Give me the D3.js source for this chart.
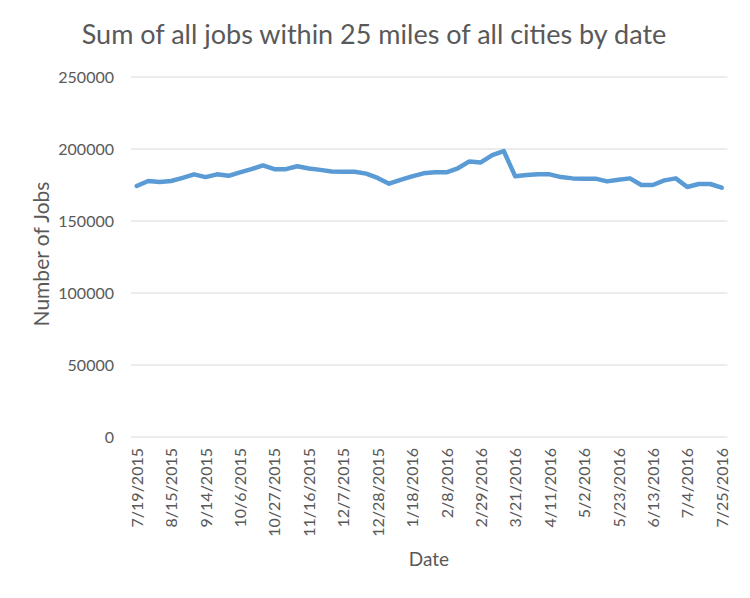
<!DOCTYPE html>
<html>
<head>
<meta charset="utf-8">
<script src="https://cdn.jsdelivr.net/npm/d3@7"></script>
<style>
  body { margin: 0; background: #fff; }
  svg text { font-family: Lato, "Open Sans", sans-serif; fill: #595959; }
</style>
</head>
<body>
<svg id="chart"></svg>
<script>
// categories (one per data point; only every 3rd shown on axis)
var dates = [
  "7/19/2015","7/28/2015","8/6/2015","8/15/2015","8/25/2015","9/4/2015","9/14/2015","9/21/2015","9/29/2015",
  "10/6/2015","10/13/2015","10/20/2015","10/27/2015","11/3/2015","11/10/2015","11/16/2015","11/23/2015","11/30/2015",
  "12/7/2015","12/14/2015","12/21/2015","12/28/2015","1/4/2016","1/11/2016","1/18/2016","1/25/2016","2/1/2016",
  "2/8/2016","2/15/2016","2/22/2016","2/29/2016","3/7/2016","3/14/2016","3/21/2016","3/28/2016","4/4/2016",
  "4/11/2016","4/18/2016","4/25/2016","5/2/2016","5/9/2016","5/16/2016","5/23/2016","5/30/2016","6/6/2016",
  "6/13/2016","6/20/2016","6/27/2016","7/4/2016","7/11/2016","7/18/2016","7/25/2016"
];
var jobs = [
  174300,177800,177100,177800,180000,182400,180500,182400,181400,
  183800,186000,188600,186000,186000,188000,186500,185500,184400,
  184200,184200,182900,179900,175900,178500,181000,183100,183800,
  183800,186600,191400,190700,195800,198600,181000,181900,182400,
  182400,180500,179600,179400,179400,177500,178700,179600,175000,
  175000,178200,179600,173600,175700,175700,173100
];
var yTicks = [0, 50000, 100000, 150000, 200000, 250000];

var W = 750, H = 598;
var svg = d3.select("#chart").attr("width", W).attr("height", H);

var x = d3.scalePoint().domain(dates).range([131, 727.4]).padding(0.5);
var y = d3.scaleLinear().domain([0, 250000]).range([437, 77]);

// gridlines
svg.append("g").selectAll("line")
  .data(yTicks)
  .enter().append("line")
  .attr("x1", 131).attr("x2", 727.4)
  .attr("y1", function(d){ return y(d); })
  .attr("y2", function(d){ return y(d); })
  .attr("stroke", "#d9d9d9").attr("stroke-width", 1);

// y axis labels
var yAxis = d3.axisLeft(y).tickValues(yTicks).tickSize(0).tickPadding(17)
  .tickFormat(d3.format("d"));
var gy = svg.append("g").attr("transform", "translate(131,0)").call(yAxis);
gy.select(".domain").remove();
gy.selectAll("text").style("font-size", "16px");

// x axis labels (every 3rd category)
var xAxis = d3.axisBottom(x).tickSize(0)
  .tickValues(dates.filter(function(d, i){ return i % 3 == 0; }));
var gx = svg.append("g").attr("transform", "translate(0,437)").call(xAxis);
gx.select(".domain").remove();
gx.selectAll("text")
  .style("font-size", "16px")
  .attr("text-anchor", "end")
  .attr("transform", "rotate(-90)")
  .attr("x", -11).attr("y", 0).attr("dy", "0.35em");

// line
var line = d3.line()
  .x(function(d, i){ return x(dates[i]); })
  .y(function(d){ return y(d); });
svg.append("path")
  .datum(jobs)
  .attr("d", line)
  .attr("fill", "none")
  .attr("stroke", "#5b9bd5")
  .attr("stroke-width", 4.5)
  .attr("stroke-linejoin", "round")
  .attr("stroke-linecap", "round");

// titles
svg.append("text")
  .attr("x", 374).attr("y", 44)
  .attr("text-anchor", "middle")
  .style("font-size", "27px")
  .text("Sum of all jobs within 25 miles of all cities by date");

svg.append("text")
  .attr("transform", "translate(49,254) rotate(-90)")
  .attr("text-anchor", "middle")
  .style("font-size", "21px")
  .text("Number of Jobs");

svg.append("text")
  .attr("x", 429).attr("y", 566)
  .attr("text-anchor", "middle")
  .style("font-size", "19px")
  .text("Date");
</script>
</body>
</html>
